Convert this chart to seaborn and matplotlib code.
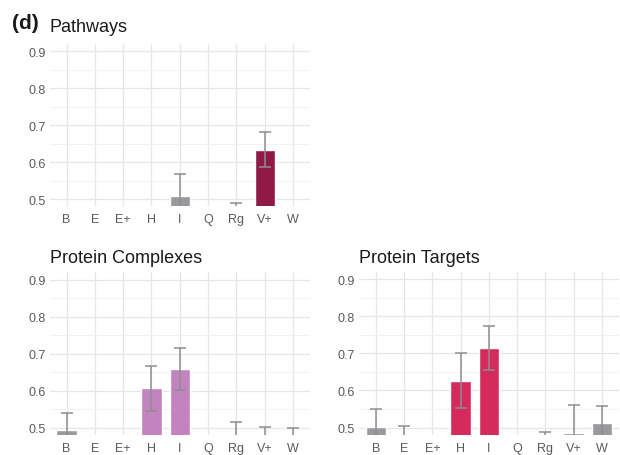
import numpy as np
import pandas as pd
import seaborn as sns
import matplotlib.pyplot as plt
from matplotlib.ticker import MultipleLocator

# categories on the x axis
cats = ["B", "E", "E+", "H", "I", "Q", "Rg", "V+", "W"]
nan = np.nan

# mean values and half-widths of the error bars per panel
path_vals = [nan, nan, nan, nan, 0.507, nan, 0.450, 0.634, nan]
path_errs = [nan, nan, nan, nan, 0.062, nan, 0.039, 0.048, nan]
path_sig = ["V+"]

cplx_vals = [0.494, nan, nan, 0.607, 0.658, nan, 0.460, 0.450, 0.450]
cplx_errs = [0.047, nan, nan, 0.060, 0.057, nan, 0.057, 0.052, 0.049]
cplx_sig = ["H", "I"]

targ_vals = [0.501, 0.460, nan, 0.626, 0.714, nan, 0.450, 0.485, 0.513]
targ_errs = [0.050, 0.044, nan, 0.074, 0.059, nan, 0.037, 0.077, 0.045]
targ_sig = ["H", "I"]

GREY = "#9a9a9e"
ERR = "#8e8e8e"

sns.set_theme(style="white")
plt.rcParams['font.family'] = ['Liberation Sans', 'DejaVu Sans']

fig = plt.figure(figsize=(6.2, 4.56), dpi=100)

panels = [
    ("Pathways", path_vals, path_errs, path_sig, "#8e1a45", [0.080, 0.545, 0.420, 0.357]),
    ("Protein Complexes", cplx_vals, cplx_errs, cplx_sig, "#c283bf", [0.080, 0.043, 0.420, 0.358]),
    ("Protein Targets", targ_vals, targ_errs, targ_sig, "#d42a5c", [0.579, 0.044, 0.419, 0.358]),
]

for title, vals, errs, sig, col, rect in panels:
    ax = fig.add_axes(rect)
    df = pd.DataFrame({"cat": cats, "val": vals, "err": errs})
    pal = {c: (col if c in sig else GREY) for c in cats}
    sns.barplot(data=df, x="cat", y="val", hue="cat", order=cats, hue_order=cats,
                palette=pal, width=0.72, errorbar=None, legend=False, ax=ax,
                saturation=1, zorder=2)
    ax.errorbar(np.arange(len(cats)), df["val"], yerr=df["err"], fmt="none",
                ecolor=ERR, elinewidth=1.1, capsize=4.2, capthick=1.1, zorder=3)

    ax.set_xlim(-0.6, len(cats) - 0.4)
    ax.set_ylim(0.48, 0.92)
    ax.yaxis.set_minor_locator(MultipleLocator(0.05))
    ax.set_yticks([0.5, 0.6, 0.7, 0.8, 0.9])
    ax.grid(True, which="major", color="#e6e6e9", lw=0.9, zorder=0)
    ax.grid(True, which="minor", axis="y", color="#f0f0f2", lw=0.6, zorder=0)
    ax.set_axisbelow(True)
    for s in ax.spines.values():
        s.set_visible(False)
    ax.tick_params(axis="both", length=0, labelsize=9, labelcolor="#5a5a5a", pad=3)
    ax.tick_params(axis="x", pad=5)
    ax.set_xlabel("")
    ax.set_ylabel("")
    if title == "Pathways":
        ax.set_title(title, loc="left", fontsize=13, color="#1a1a1a", pad=9)
    else:
        ax.set_title(title, loc="left", fontsize=13, color="#1a1a1a", pad=7)

fig.text(0.020, 0.948, "(d)", fontsize=15, fontweight="bold", color="#1a1a1a", va="center")

plt.savefig("out.png", dpi=100)
